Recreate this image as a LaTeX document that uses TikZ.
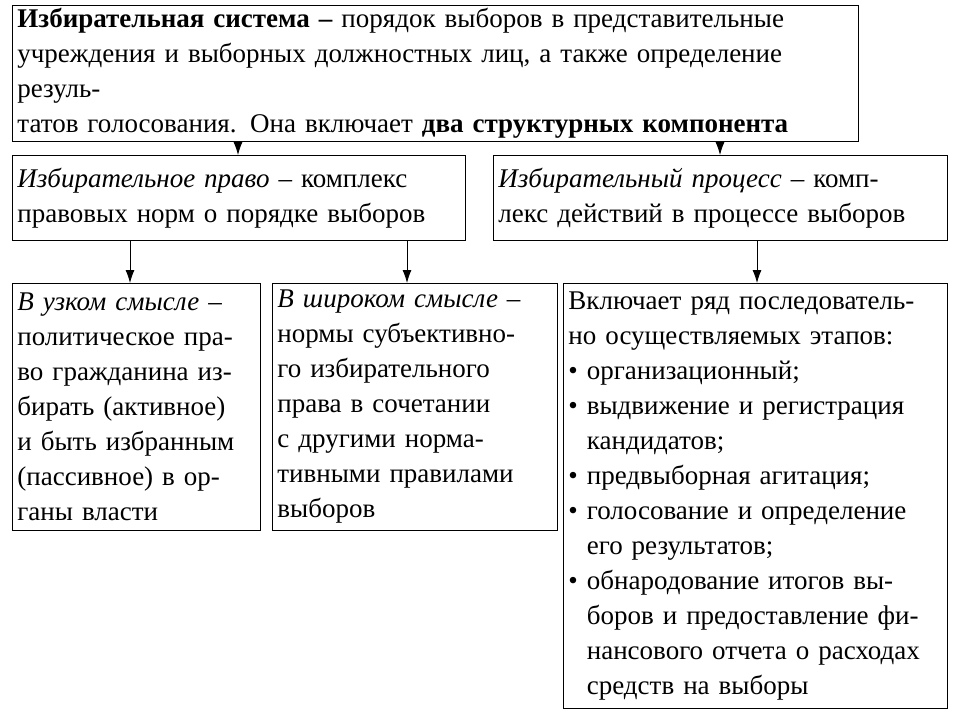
\documentclass[tikz,border=0pt]{standalone}
\usepackage{fontspec}
\setmainfont{Liberation Serif}
\usepackage{tikz}
\usetikzlibrary{arrows.meta,positioning}

\tikzset{
  box/.style={draw, thick, rectangle, anchor=north west, align=left, inner xsep=5pt, inner ysep=3pt,
    font=\fontsize{27}{35}\selectfont},
  link/.style={-{Latex[length=13pt,width=9pt]}, thick}
}

\begin{document}
\begin{tikzpicture}[x=1pt, y=-1pt]
        \useasboundingbox (0,0) rectangle (960,720);
        % Nodes
        \node[box, text width=836pt, minimum height=110pt] (system) at (12,5) {\textbf{Избирательная система –} порядок выборов в представительные\\ учреждения и выборных должностных лиц, а также определение резуль-\\ татов голосования. Она включает \textbf{два структурных компонента}};
        \node[box, text width=443pt, minimum height=85pt] (law) at (12,155) {\textit{Избирательное право} – комплекс\\ правовых норм о порядке выборов};
        \node[box, text width=444pt, minimum height=85pt] (process) at (493,155) {\textit{Избирательный процесс} – комп-\\ лекс действий в процессе выборов};
        \node[box, text width=238pt, minimum height=247pt] (narrow) at (12,283) {\textit{В узком смысле} –\\ политическое пра-\\ во гражданина из-\\ бирать (активное)\\ и быть избранным\\ (пассивное) в ор-\\ ганы власти};
        \node[box, text width=275pt, minimum height=247pt] (wide) at (272,283) {\textit{В широком смысле} –\\ нормы субъективно-\\ го избирательного\\ права в сочетании\\ с другими норма-\\ тивными правилами\\ выборов};
        \node[box, text width=374pt, minimum height=425pt] (stages) at (563,283) {Включает ряд последователь-\\ но осуществляемых этапов:\\ • организационный;\\ • выдвижение и регистрация\\ \phantom{• }кандидатов;\\ • предвыборная агитация;\\ • голосование и определение\\ \phantom{• }его результатов;\\ • обнародование итогов вы-\\ \phantom{• }боров и предоставление фи-\\ \phantom{• }нансового отчета о расходах\\ \phantom{• }средств на выборы};

        % Arrows
        \draw[link] (system.south -| 238,0) -- (law.north -| 238,0);
        \draw[link] (system.south -| 720,0) -- (process.north -| 720,0);
        \draw[link] (law.south -| 130,0) -- (narrow.north -| 130,0);
        \draw[link] (law.south -| 407,0) -- (wide.north -| 407,0);
        \draw[link] (process.south -| 757,0) -- (stages.north -| 757,0);
\end{tikzpicture}
\end{document}
